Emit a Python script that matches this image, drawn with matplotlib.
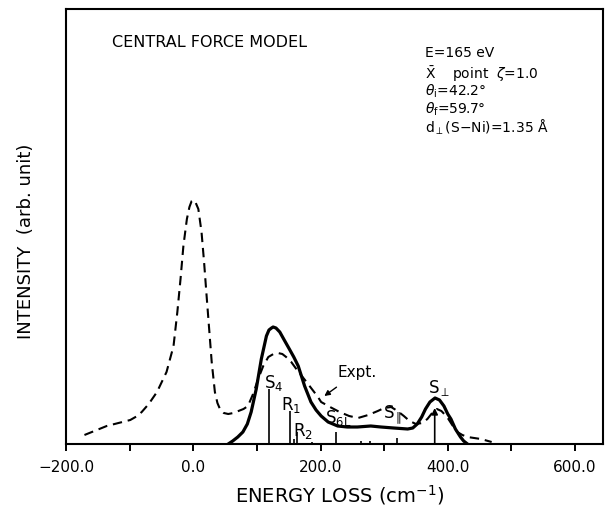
import matplotlib
matplotlib.use("Agg")
import matplotlib.pyplot as plt
import numpy as np

plt.rcParams['font.family'] = ['DejaVu Sans']
plt.rcParams['mathtext.fontset'] = 'dejavusans'

# Experimental spectrum (dashed)
expt_x = [-171, -136, -99, -88, -81, -70, -57, -42, -31, -25, -20, -15.5, -10, -6,
          -2.5, 0.2, 4, 8, 13, 17, 21, 25, 29, 34, 38, 42, 48, 55, 63, 71, 79, 86,
          94, 102, 110, 118, 126, 133, 140, 146, 154, 162, 178, 196, 201, 215, 230,
          245, 259, 275, 290, 300, 311, 321, 331, 340, 350, 360, 368, 378, 383,
          390, 399, 407, 415, 423, 431, 452, 469]
expt_y = [9, 18, 24, 28, 32, 40, 52, 72, 98, 132, 165, 198, 225, 237,
          243, 244, 241, 235, 212, 182, 148, 115, 82, 52, 41, 35, 31, 30, 31, 33, 35, 38,
          50, 65, 78, 87, 90, 91, 90, 87, 82, 75, 62, 47, 42, 37, 32,
          28, 26, 29, 33, 36, 37, 33, 28, 23, 20, 21, 25, 33, 35,
          33, 27, 19, 12, 9, 7, 5, 2]

# Calculated spectrum, central force model (solid)
calc_x = [55, 62, 70, 78, 85, 91, 99, 107, 115, 119, 123, 125.5, 130, 136, 143, 151,
          158, 165, 175, 185, 193, 201, 212, 227, 242, 258, 279, 295, 315, 337, 345,
          352, 359, 365, 372, 380, 387, 394, 400, 405, 412, 420, 425, 431]
calc_y = [0, 3, 7, 12, 20, 32, 55, 85, 108, 114, 116, 117, 116, 112, 104, 95,
          87, 78, 58, 42, 34, 28, 22, 18, 17, 17, 18, 17, 16, 15, 16,
          20, 27, 35, 42, 46, 44, 38, 30, 25, 15, 7, 3, 0]

# Mode sticks
stick_x = [119, 152.5, 157.7, 163, 186.5, 223.7, 263.7, 278.2, 320.7, 379.5]
stick_h = [55, 33, 5, 12, 2.5, 12, 3, 3, 6, 36]

mode_labels = [r"S$_4$", r"R$_1$", r"R$_2$", r"S$_{\rm 6L}$", r"S$_{\parallel}$", r"S$_{\perp}$"]
mode_label_x = [127, 153, 173, 228, 314, 386]
mode_label_y = [62, 40, 14, 27, 30, 57]

xticks_major = [-200, 0, 200, 400, 600]
xticks_minor = [-100, 100, 300, 500]
xtick_labels = ["\u2212200.0", "0.0", "200.0", "400.0", "600.0"]

fig = plt.figure(figsize=(6.05, 5.10), dpi=100)
ax = fig.add_axes([66/605, 65/510, 537/605, 435/510])

ax.plot(expt_x, expt_y, color='black', lw=1.5, dashes=(4.5, 2.8))
ax.plot(calc_x, calc_y, color='black', lw=2.3, solid_joinstyle='round')
ax.vlines(stick_x[:-1], 0, stick_h[:-1], color='black', lw=1.2)
ax.annotate('', xy=(stick_x[-1], stick_h[-1]), xytext=(stick_x[-1], 0),
            arrowprops=dict(arrowstyle='-|>', lw=1.2, color='black', mutation_scale=9,
                            shrinkA=0, shrinkB=0))

for lab, lx, ly in zip(mode_labels, mode_label_x, mode_label_y):
    ax.text(lx, ly, lab, fontsize=12, ha='center', va='center')

ax.annotate('Expt.', xy=(206, 48), xytext=(258, 72), fontsize=11,
            ha='center', va='center',
            arrowprops=dict(arrowstyle='-|>', lw=1.0, color='black', mutation_scale=8,
                            shrinkA=6, shrinkB=0))

ax.set_xlim(-198, 644)
ax.set_ylim(0, 435)
ax.set_xticks(xticks_major)
ax.set_xticklabels(xtick_labels)
ax.set_xticks(xticks_minor, minor=True)
ax.tick_params(axis='x', which='both', direction='out', length=5, width=1.4,
               labelsize=11, pad=6)
ax.set_yticks([])
for sp in ax.spines.values():
    sp.set_linewidth(1.5)

ax.text(0.085, 0.925, 'CENTRAL FORCE MODEL', transform=ax.transAxes,
        fontsize=11.5, ha='left', va='center')

info = ["E=165 eV",
        r"$\bar{\mathrm{X}}$    point  $\zeta$=1.0",
        r"$\theta_{\rm i}$=42.2°",
        r"$\theta_{\rm f}$=59.7°",
        "d$_{\\perp}$(S\u2212Ni)=1.35 Å"]
info_y = [0.901, 0.853, 0.812, 0.772, 0.730]
for t, yy in zip(info, info_y):
    ax.text(0.6685, yy, t, transform=ax.transAxes, fontsize=10,
            ha='left', va='center')

fig.text(340/605, 1 - 495/510, r"ENERGY LOSS (cm$^{-1}$)", fontsize=14,
         ha='center', va='center')
fig.text(26/605, 1 - 241/510, "INTENSITY  (arb. unit)", fontsize=13,
         ha='center', va='center', rotation=90)

fig.savefig('out.png', dpi=100)
